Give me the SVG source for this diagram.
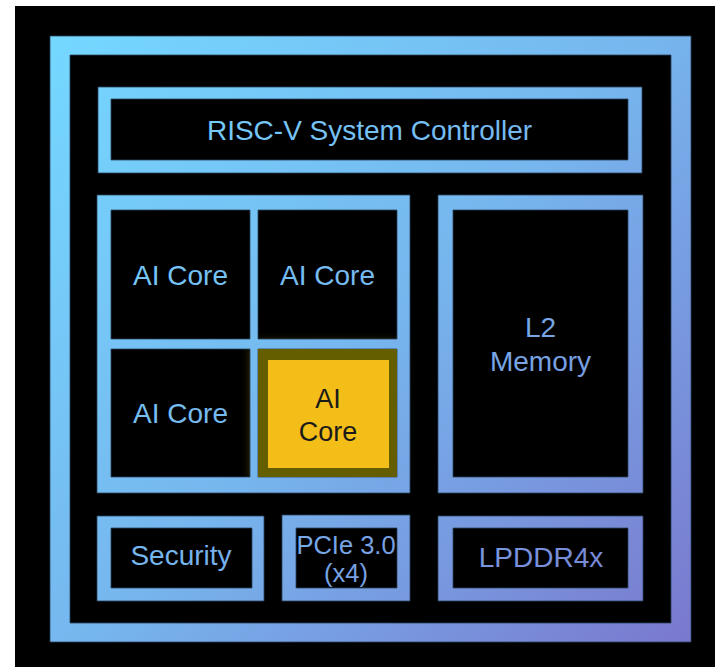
<svg xmlns="http://www.w3.org/2000/svg" width="715" height="667" viewBox="0 0 715 667">
  <defs>
    <linearGradient id="g" gradientUnits="userSpaceOnUse" x1="50" y1="36" x2="691" y2="642">
      <stop offset="0" stop-color="#74D8FF"/>
      <stop offset="0.5" stop-color="#76B6EE"/>
      <stop offset="1" stop-color="#7A78CE"/>
    </linearGradient>
    <filter id="glow" x="-30%" y="-30%" width="160%" height="160%">
      <feGaussianBlur stdDeviation="6"/>
    </filter>
  </defs>
  <style>
    .frame { fill: url(#g); fill-rule: evenodd; stroke: #2a4560; stroke-width: 1; stroke-opacity: 0.8; }
    .lbl { font-family: "Liberation Sans", Arial, sans-serif; font-size: 28px; fill: url(#g); text-anchor: middle; }
    .dark { font-family: "Liberation Sans", Arial, sans-serif; font-size: 27px; fill: #1a1a1a; text-anchor: middle; }
  </style>
  <rect x="0" y="0" width="715" height="667" fill="#ffffff"/>
  <rect x="15" y="6" width="700" height="661" fill="#000000"/>

  <g id="glow-effect">
    <rect x="254" y="345" width="147" height="136" fill="#857A00" filter="url(#glow)"/>
  </g>

  <g id="chip-frame">
    <path class="frame" d="M50 36H691V642H50Z M70 55V623H671V55Z"/>
  </g>

  <g id="risc-v">
    <path class="frame" d="M98 87H642V173H98Z M111 99V160H628V99Z"/>
    <text class="lbl" x="369.5" y="140">RISC-V System Controller</text>
  </g>

  <g id="ai-cores">
    <path class="frame" d="M97 195H410V493H97Z M111 210V339H250V210Z M258 210V339H397V210Z M111 349V477H250V349Z M258 349V477H397V349Z"/>
    <text class="lbl" x="180.5" y="285">AI Core</text>
    <text class="lbl" x="327.5" y="285">AI Core</text>
    <text class="lbl" x="180.5" y="423">AI Core</text>
  </g>

  <g id="ai-core-active">
    <rect x="258" y="349" width="139" height="128" fill="#655E00"/>
    <rect x="268" y="360" width="121" height="108" fill="#F4BE19"/>
    <text class="dark" x="328" y="407.5">AI</text>
    <text class="dark" x="328" y="440.5">Core</text>
  </g>

  <g id="l2-memory">
    <path class="frame" d="M438 195H643V493H438Z M453 210V477H628V210Z"/>
    <text class="lbl" x="540.5" y="337">L2</text>
    <text class="lbl" x="540.5" y="371">Memory</text>
  </g>

  <g id="security">
    <path class="frame" d="M97 516H264V601H97Z M111 528V588H252V528Z"/>
    <text class="lbl" x="181" y="565">Security</text>
  </g>

  <g id="pcie">
    <path class="frame" d="M282 515H410V601H282Z M296 528V588H397V528Z"/>
    <text class="lbl" x="346" y="554" style="font-size:25.5px">PCIe 3.0</text>
    <text class="lbl" x="346" y="582" style="font-size:25.5px">(x4)</text>
  </g>

  <g id="lpddr4x">
    <path class="frame" d="M438 516H643V601H438Z M453 528V588H628V528Z"/>
    <text class="lbl" x="541" y="567">LPDDR4x</text>
  </g>

  <g id="connectors"/>
</svg>
